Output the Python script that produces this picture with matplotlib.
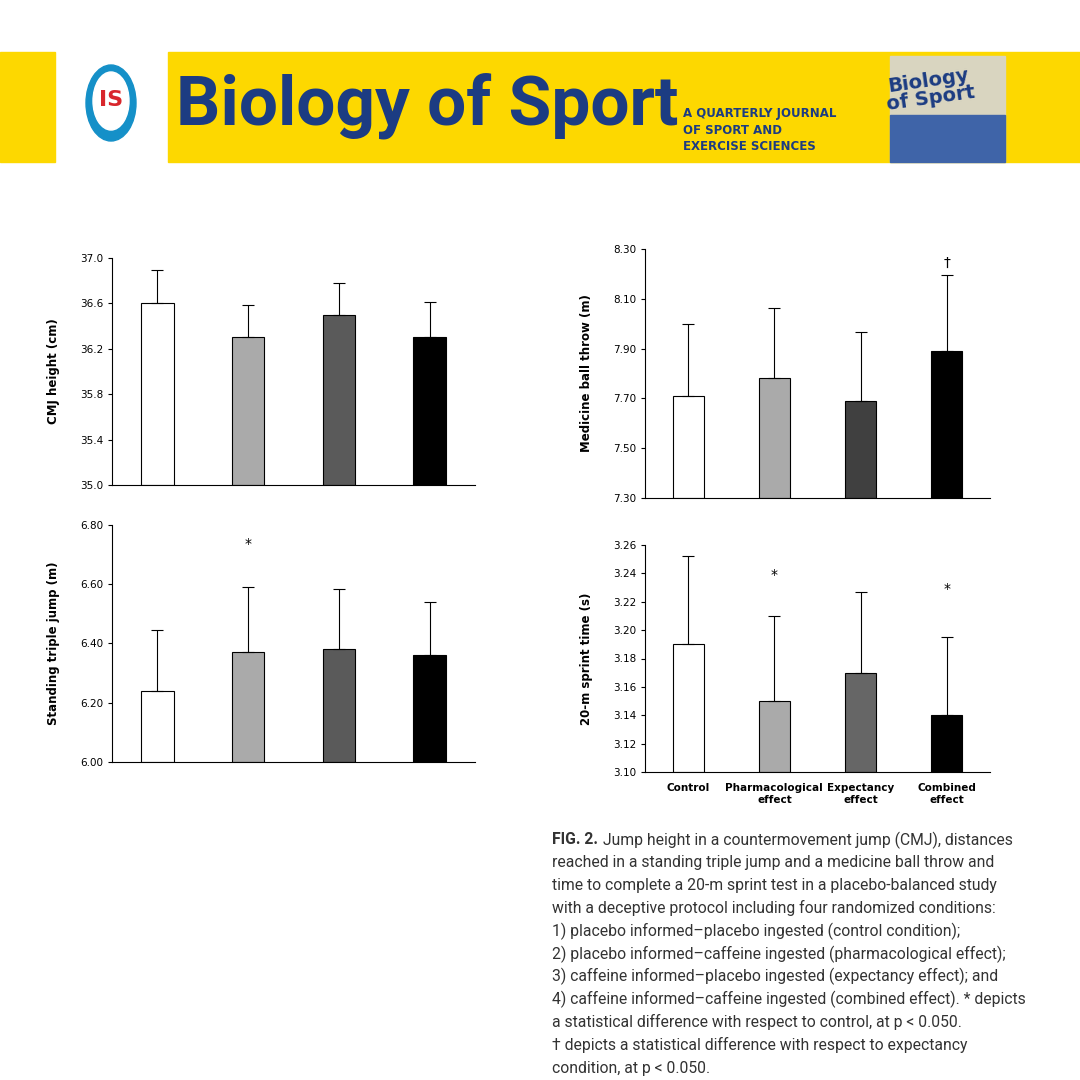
import numpy as np
import matplotlib.pyplot as plt
from matplotlib.patches import Rectangle, Ellipse

cats = ["Control", "Pharmacological\neffect", "Expectancy\neffect", "Combined\neffect"]
cmj = [36.6, 36.3, 36.5, 36.3]; cmj_sd = [0.29, 0.29, 0.28, 0.31]
mbt = [7.71, 7.78, 7.69, 7.89]; mbt_sd = [0.29, 0.285, 0.275, 0.305]
stj = [6.24, 6.37, 6.38, 6.36]; stj_sd = [0.205, 0.22, 0.205, 0.18]
spr = [3.19, 3.15, 3.17, 3.14]; spr_sd = [0.062, 0.06, 0.057, 0.055]

W = 1080
fig = plt.figure(figsize=(10.8, 10.8), dpi=100)
plt.rcParams['font.family'] = ['DejaVu Sans']

def ax_px(x0, y0, x1, y1):
    return fig.add_axes([x0 / W, 1 - y1 / W, (x1 - x0) / W, (y1 - y0) / W])

hdr = fig.add_axes([0, 0, 1, 1]); hdr.set_xlim(0, W); hdr.set_ylim(W, 0); hdr.axis('off')
yel = '#fdd800'
hdr.add_patch(Rectangle((0, 52), 55, 110, color=yel))
hdr.add_patch(Rectangle((168, 52), 912, 110, color=yel))
hdr.add_patch(Ellipse((111, 103), 50, 76, color='#1590c8'))
hdr.add_patch(Ellipse((111, 101), 36, 58, color='white'))
hdr.text(111, 100, 'IS', color='#d8262c', fontsize=16, ha='center', va='center', fontweight='bold')
hdr.text(176, 106, 'Biology of Sport', color='#1c3c82', fontsize=50, fontweight='bold',
         va='center', ha='left', family='Roboto')
hdr.text(683, 130, 'A QUARTERLY JOURNAL\nOF SPORT AND\nEXERCISE SCIENCES', color='#1c3c82',
         fontsize=8.5, fontweight='bold', va='center', ha='left', linespacing=1.3)
hdr.add_patch(Rectangle((890, 56), 115, 106, color='#d9d5c0'))
hdr.add_patch(Rectangle((890, 115), 115, 47, color='#3f64a8'))
hdr.text(930, 90, 'Biology\nof Sport', color='#1c3c82', fontsize=14, fontweight='bold',
         ha='center', va='center', rotation=8, linespacing=0.9)

cap = ["Jump height in a countermovement jump (CMJ), distances",
       "reached in a standing triple jump and a medicine ball throw and",
       "time to complete a 20-m sprint test in a placebo-balanced study",
       "with a deceptive protocol including four randomized conditions:",
       "1) placebo informed–placebo ingested (control condition);",
       "2) placebo informed–caffeine ingested (pharmacological effect);",
       "3) caffeine informed–placebo ingested (expectancy effect); and",
       "4) caffeine informed–caffeine ingested (combined effect). * depicts",
       "a statistical difference with respect to control, at p < 0.050.",
       "† depicts a statistical difference with respect to expectancy",
       "condition, at p < 0.050."]
for i, line in enumerate(cap):
    y = 840 + i * 22.8
    if i == 0:
        hdr.text(552, y, 'FIG. 2.', fontsize=11.3, fontweight='bold', color='#333', va='center', family='Roboto')
        hdr.text(603, y, line, fontsize=11.3, color='#333', va='center', family='Roboto')
    else:
        hdr.text(552, y, line, fontsize=11.3, color='#333', va='center', family='Roboto')

def panel(box, vals, sds, ylim, step, fmt, ylabel, colors, marks, xlabels=False):
    ax = ax_px(*box)
    x = range(4)
    ax.bar(x, [v - ylim[0] for v in vals], bottom=ylim[0], width=0.36, color=colors,
           edgecolor='black', linewidth=0.8, zorder=2)
    ax.errorbar(x, vals, yerr=[[0] * 4, sds], fmt='none', ecolor='black', elinewidth=0.8,
                capsize=4, capthick=0.8, zorder=3)
    for i, (sym, yv) in marks.items():
        ax.text(i, yv, sym, ha='center', va='center', fontsize=10)
    ax.set_ylim(*ylim); ax.set_xlim(-0.5, 3.5)
    t = np.arange(ylim[0], ylim[1] + step / 2, step)
    ax.set_yticks(t); ax.set_yticklabels([fmt % v for v in t], fontsize=7.5)
    for s in ['top', 'right']:
        ax.spines[s].set_visible(False)
    ax.spines['left'].set_linewidth(0.8); ax.spines['bottom'].set_linewidth(0.8)
    ax.tick_params(axis='y', length=3, width=0.8)
    ax.set_ylabel(ylabel, fontsize=8.5, fontweight='bold', labelpad=14)
    if xlabels:
        ax.set_xticks(list(x)); ax.set_xticklabels(cats, fontsize=7.5, fontweight='bold')
        ax.tick_params(axis='x', length=0, pad=8)
    else:
        ax.set_xticks([])
    return ax

panel((112, 258, 475, 485), cmj, cmj_sd, (35.0, 37.0), 0.4, '%.1f', 'CMJ height (cm)',
      ['white', '#aaaaaa', '#5a5a5a', 'black'], {})
panel((645, 249, 990, 498), mbt, mbt_sd, (7.30, 8.30), 0.2, '%.2f', 'Medicine ball throw (m)',
      ['white', '#aaaaaa', '#404040', 'black'], {3: ('†', 8.245)})
panel((112, 525, 475, 762), stj, stj_sd, (6.00, 6.80), 0.2, '%.2f', 'Standing triple jump (m)',
      ['white', '#aaaaaa', '#5a5a5a', 'black'], {1: ('*', 6.735)})
panel((645, 545, 990, 772), spr, spr_sd, (3.10, 3.26), 0.02, '%.2f', '20-m sprint time (s)',
      ['white', '#aaaaaa', '#666666', 'black'], {1: ('*', 3.239), 3: ('*', 3.229)}, xlabels=True)

fig.savefig('out.png', dpi=100)
